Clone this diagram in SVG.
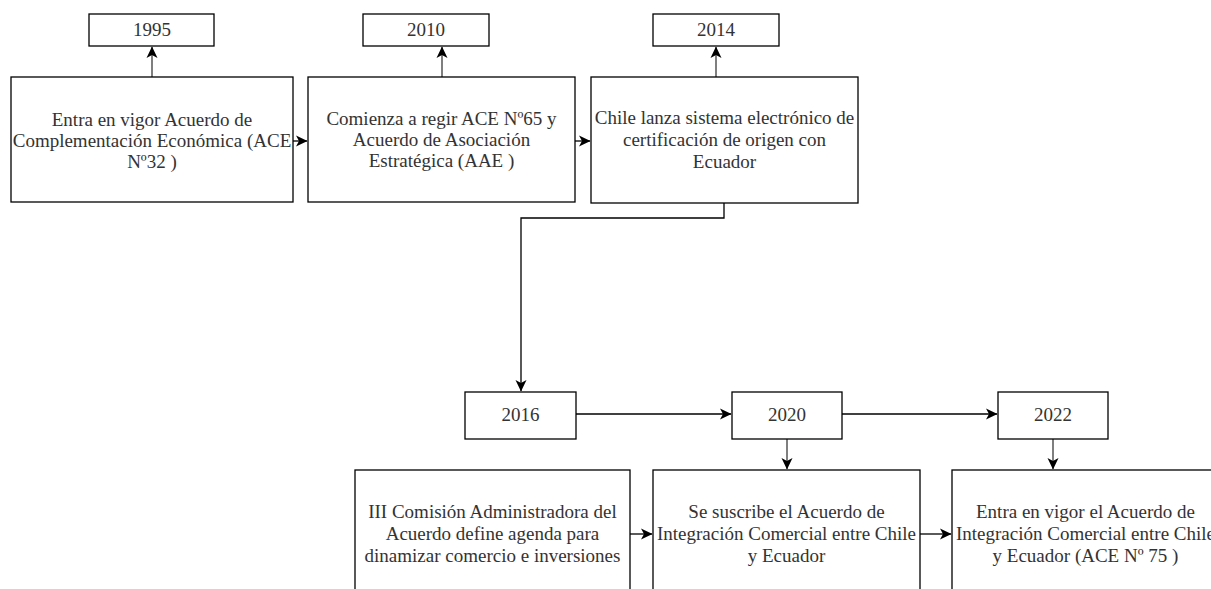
<svg xmlns="http://www.w3.org/2000/svg" width="1211" height="589" viewBox="0 0 1211 589">
  <style>
    .box { fill: #ffffff; stroke: #000000; stroke-width: 1.3; }
    .lbl { font-family: 'Liberation Serif', 'Times New Roman', 'DejaVu Serif', serif; font-size: 19px; fill: #333333; text-anchor: middle; }
    .edge { fill: none; stroke: #000000; stroke-width: 1.3; }
    .edge-soft { fill: none; stroke: #555555; stroke-width: 1.5; }
  </style>
  <defs>
    <marker id="arrow" markerWidth="13" markerHeight="13" refX="11" refY="6" orient="auto" markerUnits="userSpaceOnUse">
      <path d="M0,0.5 L11.5,6 L0,11.5 L3,6 Z" fill="#000000"/>
    </marker>
  </defs>
  <rect width="1211" height="589" fill="#ffffff"/>

  <!-- connectors -->
  <g id="connectors">
    <line class="edge-soft" x1="152" y1="77" x2="152" y2="47" marker-end="url(#arrow)"/>
    <line class="edge-soft" x1="442" y1="77" x2="442" y2="47" marker-end="url(#arrow)"/>
    <line class="edge-soft" x1="716" y1="77" x2="716" y2="47" marker-end="url(#arrow)"/>
    <line class="edge" x1="293" y1="141" x2="307" y2="141" marker-end="url(#arrow)"/>
    <line class="edge" x1="575" y1="141" x2="590" y2="141" marker-end="url(#arrow)"/>
    <polyline class="edge" points="724,203 724,218 521,218 521,391" marker-end="url(#arrow)"/>
    <line class="edge" x1="576" y1="414" x2="731" y2="414" marker-end="url(#arrow)"/>
    <line class="edge" x1="842" y1="414" x2="997" y2="414" marker-end="url(#arrow)"/>
    <line class="edge-soft" x1="787" y1="439" x2="787" y2="469" marker-end="url(#arrow)"/>
    <line class="edge-soft" x1="1053" y1="439" x2="1053" y2="469" marker-end="url(#arrow)"/>
    <line class="edge" x1="630" y1="534" x2="652" y2="534" marker-end="url(#arrow)"/>
    <line class="edge" x1="920" y1="534" x2="951" y2="534" marker-end="url(#arrow)"/>
  </g>

  <!-- year labels -->
  <g id="y1995">
    <rect class="box" x="89" y="14" width="125" height="32"/>
    <text class="lbl" x="152" y="36">1995</text>
  </g>
  <g id="y2010">
    <rect class="box" x="363" y="14" width="126" height="32"/>
    <text class="lbl" x="426" y="36">2010</text>
  </g>
  <g id="y2014">
    <rect class="box" x="653" y="14" width="126" height="32"/>
    <text class="lbl" x="716" y="36">2014</text>
  </g>
  <g id="y2016">
    <rect class="box" x="465" y="392" width="111" height="47"/>
    <text class="lbl" x="520.5" y="421">2016</text>
  </g>
  <g id="y2020">
    <rect class="box" x="732" y="392" width="110" height="47"/>
    <text class="lbl" x="787" y="421">2020</text>
  </g>
  <g id="y2022">
    <rect class="box" x="998" y="392" width="110" height="47"/>
    <text class="lbl" x="1053" y="421">2022</text>
  </g>

  <!-- events -->
  <g id="ev1995">
    <rect class="box" x="11" y="77" width="282" height="125"/>
    <text class="lbl" x="152" y="126">Entra en vigor Acuerdo de</text>
    <text class="lbl" x="152" y="147">Complementación Económica (ACE</text>
    <text class="lbl" x="152" y="168">Nº32 )</text>
  </g>
  <g id="ev2010">
    <rect class="box" x="308" y="77" width="267" height="125"/>
    <text class="lbl" x="441.5" y="125">Comienza a regir ACE Nº65 y</text>
    <text class="lbl" x="441.5" y="146">Acuerdo de Asociación</text>
    <text class="lbl" x="441.5" y="167">Estratégica (AAE )</text>
  </g>
  <g id="ev2014">
    <rect class="box" x="591" y="77" width="267" height="126"/>
    <text class="lbl" x="724.5" y="124">Chile lanza sistema electrónico de</text>
    <text class="lbl" x="724.5" y="146">certificación de origen con</text>
    <text class="lbl" x="724.5" y="168">Ecuador</text>
  </g>
  <g id="ev2016">
    <rect class="box" x="355" y="470" width="275" height="130"/>
    <text class="lbl" x="492.5" y="518">III Comisión Administradora del</text>
    <text class="lbl" x="492.5" y="540">Acuerdo define agenda para</text>
    <text class="lbl" x="492.5" y="562">dinamizar comercio e inversiones</text>
  </g>
  <g id="ev2020">
    <rect class="box" x="653" y="470" width="267" height="130"/>
    <text class="lbl" x="786.5" y="518">Se suscribe el Acuerdo de</text>
    <text class="lbl" x="786.5" y="540">Integración Comercial entre Chile</text>
    <text class="lbl" x="786.5" y="562">y Ecuador</text>
  </g>
  <g id="ev2022">
    <rect class="box" x="952" y="470" width="267" height="130"/>
    <text class="lbl" x="1085.5" y="518">Entra en vigor el Acuerdo de</text>
    <text class="lbl" x="1085.5" y="540">Integración Comercial entre Chile</text>
    <text class="lbl" x="1085.5" y="562">y Ecuador (ACE Nº 75 )</text>
  </g>
</svg>
